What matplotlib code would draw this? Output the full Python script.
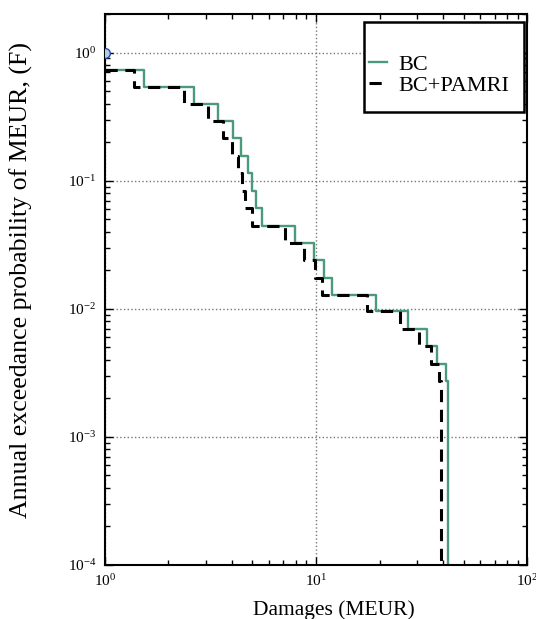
import numpy as np
import matplotlib
matplotlib.use('Agg')
import matplotlib.pyplot as plt
from matplotlib.patches import Rectangle

plt.rcParams['font.family'] = ['Liberation Serif', 'DejaVu Serif']
plt.rcParams['mathtext.fontset'] = 'custom'
plt.rcParams['mathtext.rm'] = 'Liberation Serif'
plt.rcParams['axes.unicode_minus'] = False

# step curves, value held from x[i] up to x[i+1]
bc_x = [1.0, 1.535, 2.655, 3.45, 4.05, 4.40, 4.78, 4.97, 5.19, 5.55,
        7.95, 9.78, 10.95, 11.87, 19.16, 27.35, 33.4, 37.5, 41.2, 42.3]
bc_y = [0.737, 0.540, 0.400, 0.292, 0.2136, 0.1566, 0.1148, 0.0836, 0.0616, 0.0446,
        0.0326, 0.0241, 0.01754, 0.01292, 0.00958, 0.00698, 0.00508, 0.00373, 0.00271, 1e-5]

pam_x = [1.0, 1.38, 2.373, 3.083, 3.64, 3.99, 4.26, 4.45, 4.61, 4.96,
         7.13, 8.75, 9.92, 10.71, 17.38, 24.98, 30.6, 34.9, 38.0, 39.05]
pam_y = [0.737, 0.540, 0.400, 0.292, 0.2136, 0.1566, 0.1148, 0.0836, 0.0616, 0.0446,
         0.0326, 0.0241, 0.01754, 0.01292, 0.00958, 0.00698, 0.00508, 0.00373, 0.00271, 1e-5]

green = '#4c9a7c'

fig = plt.figure(figsize=(5.36, 6.19), dpi=100)
ax = fig.add_axes([0.1953, 0.0872, 0.7885, 0.8902])

ax.plot([1.0], [1.0], 'o', ms=7, mfc='#b0cce8', mec='#2c4c9c', mew=1.0, zorder=5)
ax.plot(bc_x, bc_y, drawstyle='steps-post', color=green, lw=1.7, label='BC')
ax.plot(pam_x, pam_y, drawstyle='steps-post', color='k', lw=2.2, ls=(0, (4, 2.5)),
        label='BC+PAMRI')

ax.set_xscale('log')
ax.set_yscale('log')
ax.set_xlim(1, 100)
ax.set_ylim(1e-4, 2)

ax.grid(True, which='major', ls=':', color='#777777', lw=1)
ax.tick_params(which='both', direction='in', top=True, right=True, labelsize=11, pad=6)
ax.tick_params(which='major', length=6, width=1)
ax.tick_params(which='minor', length=3.5, width=1)
for s in ax.spines.values():
    s.set_linewidth(1.5)

ax.set_xlabel('Damages (MEUR)', fontsize=15.5)
ax.xaxis.set_label_coords(0.5426, -0.0635)
ax.set_ylabel('Annual exceedance probability of MEUR, (F)', fontsize=18.6)
ax.yaxis.set_label_coords(-0.1706, 0.518)

# legend frame drawn separately, old-style box
ax.add_patch(Rectangle((0.6136, 0.8227), 0.3784, 0.1633, transform=ax.transAxes,
                       fill=True, fc='white', ec='k', lw=1.8, zorder=6))
leg = ax.legend(loc='center left', bbox_to_anchor=(0.625, 0.889), frameon=False,
                fontsize=16, borderpad=0, borderaxespad=0, handlelength=0.8,
                handletextpad=0.55, labelspacing=0.0)
leg.set_zorder(7)

fig.savefig('out.png', dpi=100)
